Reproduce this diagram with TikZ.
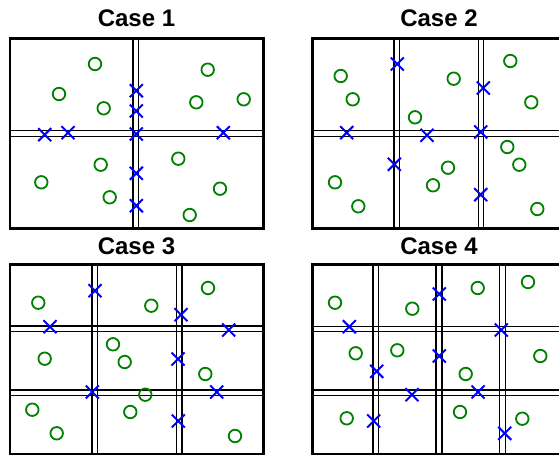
\documentclass[tikz,border=0pt]{standalone}
\usepackage{fontspec}
\setmainfont{Liberation Sans}
\usetikzlibrary{shapes.misc}
\definecolor{mkgreen}{RGB}{0,128,0}
\definecolor{mkblue}{RGB}{0,0,255}
\begin{document}
\begin{tikzpicture}[x=1pt,y=-1pt,
  frame/.style={line width=2.8pt},
  gridline/.style={line width=1.3pt},
  pt/.style={circle,draw=mkgreen,line width=1.8pt,minimum size=12.5pt,inner sep=0pt},
  xm/.style={cross out,draw=mkblue,line width=2pt,minimum size=11pt,inner sep=0pt},
  ttl/.style={font=\fontsize{24}{28}\selectfont\bfseries,anchor=base,inner sep=0pt}]
\path[use as bounding box] (0,0) rectangle (559,457);
\clip (0,0) rectangle (559,457);
% ---------- Case 1 ----------
\node[ttl] (t1) at (136.5,27) {Case 1};
\foreach \x in {133,138.7} \draw[gridline] (\x,38.5) -- (\x,228.5);
\foreach \y in {130.7,136.7} \draw[gridline] (10,\y) -- (263.5,\y);
\draw[frame] (10,38.5) rectangle (263.5,228.5);
\foreach \p [count=\i] in {(95,64),(59,94),(103.7,108.3),(207.7,69.7),(196.3,102.3),(243.7,99.3),(100.7,164.7),(41.3,182.3),(109.7,197.3),(178.3,158.7),(220,188.7),(189.7,215)}
  \node[pt] (c1-\i) at \p {};
\foreach \p [count=\i] in {(136.3,90.7),(136.3,111),(136.3,134),(44.7,134.7),(68,132.7),(223.3,132.7),(136.3,173.3),(136.3,205.7)}
  \node[xm] (x1-\i) at \p {};
% ---------- Case 2 ----------
\node[ttl] (t2) at (439,27) {Case 2};
\foreach \x in {394,399.3,478.7,483.7} \draw[gridline] (\x,38.5) -- (\x,228.5);
\foreach \y in {130.7,136.7} \draw[gridline] (312.3,\y) -- (566,\y);
\draw[frame] (312.3,38.5) rectangle (566,228.5);
\foreach \p [count=\i] in {(340.7,76),(352.7,99.3),(453.7,78.7),(510.3,61),(531.3,102.3),(415,117.3),(507.3,147),(519.3,164.7),(448,167.7),(433,185.3),(335,182.3),(358.3,206.3),(537.3,209)}
  \node[pt] (c2-\i) at \p {};
\foreach \p [count=\i] in {(397.3,64),(483.3,88),(346.7,132.7),(427,135.3),(480.7,132),(394.3,164.3),(480.7,194.7)}
  \node[xm] (x2-\i) at \p {};
% ---------- Case 3 ----------
\node[ttl] (t3) at (136.5,254) {Case 3};
\foreach \x in {92,97.3,176.7,182} \draw[gridline] (\x,264.5) -- (\x,454);
\foreach \y in {326,331.7,390,395.3} \draw[gridline] (10,\y) -- (263.5,\y);
\draw[frame] (10,264.5) rectangle (263.5,454);
\foreach \p [count=\i] in {(38.3,302.7),(151.3,305.7),(208,288),(113,344.3),(124.7,362),(44.7,358.7),(205.3,374),(145.3,394.7),(32.3,409.7),(130.3,412),(56.7,433.3),(235,436)}
  \node[pt] (c3-\i) at \p {};
\foreach \p [count=\i] in {(95,290.7),(181,314.7),(50,326.7),(228.7,330),(178,359),(92.3,392),(216.7,392),(178.3,421)}
  \node[xm] (x3-\i) at \p {};
% ---------- Case 4 ----------
\node[ttl] (t4) at (439,254) {Case 4};
\foreach \x in {373,378.7,436,442,499.7,505.3} \draw[gridline] (\x,264.5) -- (\x,454);
\foreach \y in {326.3,331.7,390,395.3} \draw[gridline] (312.3,\y) -- (566,\y);
\draw[frame] (312.3,264.5) rectangle (566,454);
\foreach \p [count=\i] in {(335,302.7),(412.3,308.7),(477.7,288),(528,282),(355.7,353.3),(397.3,350.3),(540.3,356),(465.7,374),(346.7,418.3),(460,412),(522.3,418.7)}
  \node[pt] (c4-\i) at \p {};
\foreach \p [count=\i] in {(439.3,294),(349.3,326.7),(501.3,330),(439.3,356),(376.7,371.3),(412,394.7),(478,392),(373.7,421),(504.7,433.3)}
  \node[xm] (x4-\i) at \p {};
\end{tikzpicture}
\end{document}
